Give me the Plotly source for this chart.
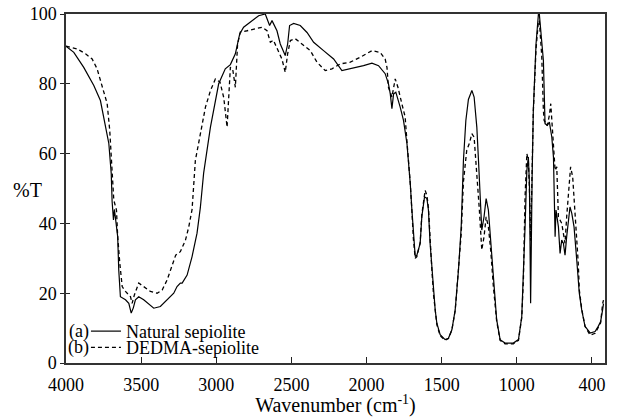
import plotly.graph_objects as go

# Natural sepiolite (a) — solid
wn_a = [4000, 3948, 3882, 3815, 3771, 3749, 3715, 3699, 3693, 3684, 3678, 3668, 3656, 3649, 3638,
        3604, 3582, 3566, 3552, 3538, 3516, 3483, 3416, 3372, 3327, 3283, 3261, 3239, 3227, 3194,
        3161, 3128, 3106, 3084, 3039, 2984, 2940, 2906, 2873, 2844, 2818, 2773, 2718, 2674, 2645,
        2629, 2596, 2574, 2552, 2541, 2525, 2512, 2485, 2441, 2396, 2352, 2286, 2219, 2164, 2108,
        2020, 1964, 1920, 1876, 1854, 1842, 1831, 1820, 1805, 1776, 1754, 1731, 1721, 1709, 1698,
        1688, 1676, 1665, 1643, 1632, 1614, 1598, 1588, 1577, 1565, 1554, 1543, 1532, 1510, 1477,
        1455, 1432, 1410, 1388, 1370, 1355, 1339, 1322, 1299, 1284, 1266, 1255, 1244, 1233, 1218,
        1204, 1189, 1173, 1156, 1134, 1111, 1078, 1023, 989, 967, 956, 945, 933, 923, 916,
        908, 898, 890, 872, 856, 850, 834, 823, 812, 797, 783, 767, 756, 752, 745,
        739, 723, 712, 701, 690, 679, 668, 657, 646, 634, 619, 601, 584, 568, 546,
        512, 479, 458, 442, 429, 423]
t_a = [90.8, 89.0, 84.7, 79.5, 75.2, 70.5, 62.9, 54.3, 46.2, 41.0, 44.0, 40.5, 36.2, 26.7, 19.0,
       18.1, 17.1, 14.3, 15.8, 18.1, 19.0, 18.1, 15.7, 16.2, 18.1, 20.0, 21.9, 22.9, 22.9, 25.2,
       30.5, 37.2, 44.5, 54.4, 67.5, 80.0, 84.3, 85.5, 88.6, 94.3, 96.2, 97.6, 99.5, 100.0, 96.7,
       98.1, 95.2, 91.4, 89.5, 88.1, 91.4, 96.7, 97.3, 96.7, 94.7, 91.9, 89.5, 87.1, 83.8, 84.3,
       85.2, 85.9, 85.2, 82.9, 80.0, 77.1, 72.9, 77.1, 77.6, 73.3, 69.5, 62.9, 58.1, 51.4, 43.8,
       36.2, 30.5, 30.9, 34.3, 41.9, 47.6, 47.1, 43.8, 34.3, 26.7, 20.0, 15.2, 11.4, 8.1, 6.7,
       7.1, 9.5, 15.2, 26.7, 39.0, 58.1, 69.5, 75.5, 78.1, 76.2, 67.6, 58.1, 47.6, 38.1, 41.9,
       47.1, 43.8, 34.3, 22.9, 12.4, 6.7, 5.7, 5.7, 6.7, 13.3, 24.7, 39.0, 55.2, 59.0, 51.4,
       17.1, 53.3, 72.4, 91.4, 100.0, 100.0, 93.3, 86.7, 68.6, 68.1, 69.0, 64.7, 59.0, 48.6, 36.2,
       43.8, 39.0, 31.4, 35.2, 34.3, 30.9, 36.2, 40.0, 44.7, 42.9, 39.0, 29.5, 20.0, 15.2, 10.5,
       8.6, 9.0, 10.5, 11.9, 15.2, 17.0]

# DEDMA-sepiolite (b) — dashed
wn_b = [4000, 3926, 3870, 3826, 3793, 3771, 3749, 3726, 3709, 3699, 3693, 3682, 3664, 3656, 3642,
        3626, 3604, 3571, 3560, 3545, 3516, 3483, 3438, 3394, 3360, 3327, 3294, 3270, 3239, 3205,
        3183, 3161, 3139, 3106, 3072, 3039, 3006, 2975, 2950, 2928, 2915, 2906, 2890, 2873, 2858,
        2840, 2795, 2740, 2695, 2662, 2640, 2620, 2596, 2563, 2541, 2525, 2507, 2474, 2430, 2374,
        2330, 2275, 2230, 2175, 2108, 2042, 1964, 1909, 1876, 1864, 1854, 1831, 1809, 1791, 1765,
        1743, 1731, 1721, 1709, 1698, 1688, 1676, 1665, 1643, 1632, 1610, 1598, 1588, 1577, 1565,
        1554, 1543, 1532, 1510, 1477, 1455, 1432, 1410, 1388, 1370, 1355, 1333, 1316, 1299, 1284,
        1266, 1249, 1233, 1218, 1204, 1189, 1173, 1156, 1134, 1111, 1078, 1023, 989, 967, 956,
        945, 933, 923, 916, 908, 898, 890, 872, 856, 850, 834, 823, 818, 797, 783,
        774, 761, 752, 745, 734, 723, 701, 679, 668, 651, 642, 628, 613, 591, 584,
        568, 546, 512, 479, 458, 442, 429, 423]
t_b = [90.8, 90.0, 88.6, 87.1, 84.3, 80.9, 78.1, 74.3, 66.7, 60.0, 53.3, 46.7, 43.8, 36.2, 28.6,
       21.9, 20.5, 19.0, 17.1, 19.5, 22.9, 21.9, 20.5, 20.0, 20.9, 23.8, 27.6, 30.9, 31.9, 35.2,
       39.0, 44.0, 58.1, 65.7, 73.3, 78.0, 81.4, 80.5, 76.0, 67.6, 78.0, 84.8, 84.0, 79.0, 91.4,
       94.8, 95.2, 95.7, 96.2, 95.2, 91.9, 92.5, 90.0, 87.1, 83.3, 88.6, 92.4, 92.9, 91.4, 89.5,
       86.2, 83.8, 84.3, 85.7, 86.2, 87.6, 89.5, 89.0, 87.1, 84.7, 79.0, 76.2, 81.4, 79.0, 74.3,
       70.5, 63.5, 58.5, 51.5, 43.5, 35.5, 30.0, 30.5, 34.5, 42.5, 49.5, 48.0, 44.5, 34.5, 26.5,
       19.5, 15.0, 11.0, 7.8, 6.5, 7.0, 9.5, 15.0, 26.0, 37.0, 52.0, 61.0, 62.9, 65.7, 64.7,
       55.2, 43.8, 32.4, 36.2, 41.9, 39.0, 32.0, 22.0, 12.0, 6.5, 5.5, 5.5, 6.5, 13.0, 24.0,
       47.6, 60.0, 58.0, 50.0, 35.0, 55.0, 72.0, 90.0, 98.0, 98.0, 88.0, 72.4, 69.5, 68.0, 71.0,
       74.3, 66.7, 61.0, 55.2, 56.2, 41.9, 40.0, 34.3, 41.9, 51.4, 56.2, 53.3, 43.8, 28.6, 21.0,
       15.5, 10.5, 8.0, 8.5, 10.0, 11.5, 17.0, 18.0]

x_tickvals = [4000, 3500, 3000, 2500, 2000, 1500, 1000, 500]
x_ticktext = ["4000", "3500", "3000", "2500", "2000", "1500", "1000", "400"]
y_tickvals = [0, 20, 40, 60, 80, 100]

FONT = "Liberation Serif"

fig = go.Figure()
fig.add_trace(go.Scatter(x=wn_a, y=t_a, mode="lines", name="Natural sepiolite",
                         line=dict(color="black", width=1.2), legend="legend", showlegend=True))
fig.add_trace(go.Scatter(x=wn_b, y=t_b, mode="lines", name="DEDMA-sepiolite",
                         line=dict(color="black", width=1.3, dash="4px,3px"), legend="legend2",
                         showlegend=True))
# empty helper trace so the overlaid axis (inner half of the y ticks) is drawn
fig.add_trace(go.Scatter(x=[], y=[], yaxis="y2", showlegend=False, hoverinfo="skip"))

leg_common = dict(bgcolor="rgba(0,0,0,0)", borderwidth=0, xanchor="left", yanchor="middle",
                  font=dict(family=FONT, size=18, color="black"), itemclick=False, visible=True)
fig.update_layout(
    width=620, height=417,
    margin=dict(l=66, r=15, t=14, b=54),
    paper_bgcolor="white", plot_bgcolor="white",
    showlegend=True,
    font=dict(family=FONT, size=18, color="black"),
    legend=dict(x=0.037, y=0.0905, **leg_common),
    legend2=dict(x=0.037, y=0.0438, **leg_common),
    xaxis=dict(range=[4000, 413], tickvals=x_tickvals, ticktext=x_ticktext,
               ticks="inside", ticklen=6, tickcolor="#222", tickwidth=1,
               showline=True, linecolor="#333", linewidth=1.5, mirror=True,
               showgrid=False, zeroline=False, ticklabelstandoff=5, automargin=False,
               tickfont=dict(family=FONT, size=18, color="black"),
               title=dict(text="Wavenumber (cm<sup>-1</sup>)", standoff=4,
                          font=dict(family=FONT, size=20, color="black"))),
    yaxis=dict(range=[0, 100], tickvals=y_tickvals,
               ticks="outside", ticklen=4, tickcolor="#222", tickwidth=1,
               showline=True, linecolor="#333", linewidth=1.5, mirror=True,
               showgrid=False, zeroline=False, automargin=False,
               tickfont=dict(family=FONT, size=18, color="black")),
    yaxis2=dict(range=[0, 100], tickvals=y_tickvals, overlaying="y", side="left",
                ticks="inside", ticklen=4, tickcolor="#222", tickwidth=1,
                showticklabels=False, showline=False, showgrid=False, zeroline=False,
                automargin=False),
    annotations=[
        dict(text="%T", xref="paper", yref="paper", x=-0.072, y=0.496, showarrow=False,
             xanchor="center", yanchor="middle", font=dict(family=FONT, size=20, color="black")),
        dict(text="(a)", xref="paper", yref="paper", x=0.0465, y=0.0905, showarrow=False,
             xanchor="right", yanchor="middle", font=dict(family=FONT, size=18, color="black")),
        dict(text="(b)", xref="paper", yref="paper", x=0.0465, y=0.0438, showarrow=False,
             xanchor="right", yanchor="middle", font=dict(family=FONT, size=18, color="black")),
    ],
)

fig.write_html("out.html")
